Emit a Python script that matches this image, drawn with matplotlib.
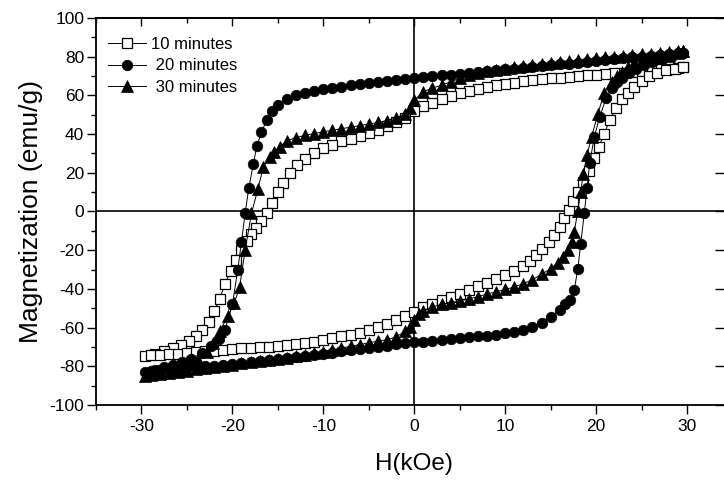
import matplotlib
matplotlib.use("Agg")
import matplotlib.pyplot as plt
import numpy as np

plt.rcParams['font.family'] = ['Liberation Sans', 'DejaVu Sans']
plt.rcParams['axes.unicode_minus'] = False

# 10 minutes (open squares)
h10_upper = [29.6, 29, 28, 27, 26, 25, 24, 23, 22, 21, 20, 19, 18, 17, 16, 15, 14, 13, 12, 11,
             10, 9, 8, 7, 6, 5, 4, 3, 2, 1, 0, -1, -2, -3, -4, -5, -6, -7, -8, -9, -10, -11,
             -12, -12.9, -13.7, -14.4, -15, -15.6, -16.2, -16.8, -17.4, -17.9, -18.4, -19.0,
             -19.6, -20.2, -20.8, -21.4, -22.0, -22.6, -23.3, -24.0, -24.8, -25.6, -26.5,
             -27.5, -28.5, -29.6]
m10_upper = [74.5, 74.2, 73.8, 73.4, 73.0, 72.6, 72.2, 71.8, 71.4, 71.0, 70.6, 70.3, 70.0, 69.6,
             69.2, 68.8, 68.3, 67.8, 67.2, 66.6, 66.0, 65.2, 64.4, 63.5, 62.5, 61.3, 59.8, 58.2,
             56.3, 54.3, 52.0, 48.5, 46.2, 44.2, 42.2, 40.6, 39.1, 37.7, 36.2, 34.6, 32.7, 30.3,
             27.3, 24.0, 19.7, 14.6, 10.0, 4.5, -1.0, -5.0, -8.5, -11.5, -15.0, -20.0, -25.0,
             -31.0, -37.5, -45.0, -51.5, -57.0, -61.5, -64.5, -67.0, -69.0, -70.7, -72.2, -73.5,
             -74.6]
h10_lower = [-29.6, -29, -28, -27, -26, -25, -24, -23, -22, -21, -20, -19, -18, -17, -16, -15,
             -14, -13, -12, -11, -10, -9, -8, -7, -6, -5, -4, -3, -2, -1, 0, 1, 2, 3, 4, 5, 6,
             7, 8, 9, 10, 11, 12, 12.7, 13.4, 14.1, 14.8, 15.4, 16.0, 16.5, 17.0, 17.5, 18.0,
             18.6, 19.2, 19.8, 20.3, 20.9, 21.5, 22.2, 22.9, 23.5, 24.2, 25.0, 25.8, 26.7,
             27.7, 28.7, 29.6]
m10_lower = [-74.6, -74.4, -74.0, -73.7, -73.4, -73.1, -72.7, -72.3, -71.9, -71.5, -71.1, -70.8,
             -70.5, -70.2, -69.9, -69.6, -69.2, -68.6, -67.9, -67.2, -66.4, -65.5, -64.6, -63.7,
             -62.7, -61.4, -59.9, -58.1, -56.2, -54.1, -51.8, -49.6, -47.6, -45.9, -44.3, -42.6,
             -40.6, -38.6, -36.8, -35.0, -33.0, -30.8, -28.0, -25.5, -22.5, -19.2, -15.8, -12.2,
             -8.0, -3.5, 1.0, 5.5, 10.0, 15.5, 21.0, 27.5, 33.5, 40.0, 47.5, 53.5, 58.0, 61.3,
             64.5, 67.7, 70.0, 71.8, 73.0, 73.8, 74.5]

# 20 minutes (filled circles)
h20_upper = [29.6, 29, 28, 27, 26, 25, 24, 23, 22, 21, 20, 19, 18, 17, 16, 15, 14, 13, 12, 11,
             10, 9, 8, 7, 6, 5, 4, 3, 2, 1, 0, -1, -2, -3, -4, -5, -6, -7, -8, -9, -10, -11,
             -12, -13, -14, -15, -15.6, -16.2, -16.8, -17.3, -17.7, -18.2, -18.6, -19.0, -19.4,
             -20.0, -20.8, -21.5, -22.3, -23.3, -24.5, -25.5, -26.5, -27.5, -28.5, -29.6]
m20_upper = [82.0, 81.7, 81.3, 80.9, 80.5, 80.1, 79.6, 79.1, 78.6, 78.1, 77.6, 77.2, 76.8, 76.4,
             76.0, 75.6, 75.2, 74.8, 74.3, 73.9, 73.5, 73.0, 72.6, 72.1, 71.7, 71.2, 70.7, 70.3,
             69.8, 69.4, 68.9, 68.4, 67.9, 67.4, 66.9, 66.4, 65.8, 65.2, 64.6, 63.9, 63.2, 62.4,
             61.4, 60.2, 58.2, 55.0, 52.0, 47.5, 41.0, 34.0, 24.5, 12.0, -1.0, -15.6, -30.0,
             -48.0, -61.0, -66.0, -69.5, -73.0, -76.0, -77.8, -79.3, -80.6, -81.7, -82.8]
h20_lower = [-29.6, -29, -28, -27, -26, -25, -24, -23, -22, -21, -20, -19, -18, -17, -16, -15,
             -14, -13, -12, -11, -10, -9, -8, -7, -6, -5, -4, -3, -2, -1, 0, 1, 2, 3, 4, 5, 6,
             7, 8, 9, 10, 11, 12, 13, 14, 15, 16, 16.6, 17.1, 17.6, 18.0, 18.3, 18.7, 19.0, 19.3,
             19.8, 20.4, 21.1, 21.7, 22.3, 22.9, 23.6, 24.4, 25.3, 26.2, 27.2, 28.3, 29.6]
m20_lower = [-82.8, -82.5, -82.1, -81.7, -81.3, -80.9, -80.5, -80.1, -79.6, -79.2, -78.7, -78.3,
             -77.8, -77.3, -76.8, -76.3, -75.8, -75.3, -74.7, -74.1, -73.5, -72.9, -72.3, -71.7,
             -71.1, -70.5, -69.9, -69.3, -68.7, -68.2, -67.6, -67.2, -66.8, -66.4, -66.0, -65.6,
             -65.1, -64.6, -64.1, -63.6, -63.0, -62.3, -61.5, -59.8, -57.4, -54.5, -51.0, -48.0,
             -45.5, -40.5, -29.5, -17.0, -1.0, 12.0, 25.0, 38.5, 49.0, 58.5, 64.0, 67.0, 69.2,
             71.5, 73.5, 75.5, 77.2, 78.8, 80.3, 82.0]

# 30 minutes (filled triangles)
h30_upper = [29.6, 29, 28, 27, 26, 25, 24, 23, 22, 21, 20, 19, 18, 17, 16, 15, 14, 13, 12, 11,
             10, 9, 8, 7, 6, 5, 4, 3, 2, 1, 0, -0.5, -1, -2, -3, -4, -5, -6, -7, -8, -9, -10,
             -11, -12, -13, -14, -14.8, -15.4, -15.9, -16.6, -17.2, -17.9, -18.6, -19.2, -19.8,
             -20.5, -21.4, -22.1, -22.8, -23.8, -24.8, -25.8, -26.8, -27.8, -28.8, -29.6]
m30_upper = [83.0, 82.8, 82.4, 82.0, 81.6, 81.2, 80.8, 80.4, 80.0, 79.6, 79.2, 78.7, 78.2, 77.7,
             77.2, 76.7, 76.2, 75.7, 75.1, 74.5, 73.9, 73.2, 72.4, 71.5, 70.4, 68.8, 67.0, 65.3,
             63.8, 62.0, 57.5, 53.3, 50.5, 48.3, 47.0, 46.0, 45.2, 44.4, 43.6, 42.8, 42.0, 41.2,
             40.3, 39.4, 38.2, 36.5, 33.5, 30.5, 28.0, 23.0, 11.5, -1.0, -20.0, -39.0, -47.5,
             -54.0, -62.0, -68.0, -72.5, -76.5, -79.0, -80.8, -82.2, -83.3, -84.2, -84.8]
h30_lower = [-29.6, -29, -28, -27, -26, -25, -24, -23, -22, -21, -20, -19, -18, -17, -16, -15,
             -14, -13, -12, -11, -10, -9, -8, -7, -6, -5, -4, -3, -2, -1, -0.5, 0, 0.5, 1, 2, 3,
             4, 5, 6, 7, 8, 9, 10, 11, 12, 13, 14, 15, 15.8, 16.4, 16.9, 17.3, 17.6, 18.0, 18.3,
             18.6, 19.0, 19.5, 20.2, 20.9, 21.7, 22.3, 22.9, 23.5, 24.2, 25, 26, 27, 28, 29, 29.6]
m30_lower = [-84.8, -84.5, -84.0, -83.4, -82.8, -82.2, -81.6, -81.0, -80.3, -79.7, -79.1, -78.5,
             -77.9, -77.3, -76.7, -76.1, -75.5, -74.8, -74.0, -73.2, -72.4, -71.5, -70.6, -69.7,
             -68.8, -67.9, -67.0, -66.3, -64.8, -62.0, -59.5, -56.0, -53.0, -51.3, -49.3, -48.0,
             -47.1, -46.2, -45.2, -44.0, -42.7, -41.5, -40.3, -39.0, -37.3, -35.2, -32.5, -29.5,
             -26.5, -23.5, -20.0, -16.0, -10.5, 0.5, 10.0, 19.5, 29.0, 38.5, 50.5, 61.5, 67.0,
             70.0, 72.3, 74.5, 76.5, 77.8, 78.8, 79.6, 80.6, 81.8, 83.0]

labels = ['10 minutes', ' 20 minutes', ' 30 minutes']
x_ticks = [-30, -20, -10, 0, 10, 20, 30]
y_ticks = [-100, -80, -60, -40, -20, 0, 20, 40, 60, 80, 100]

fig = plt.figure(figsize=(7.24, 4.91), dpi=100)
ax = fig.add_axes([0.1326, 0.1752, 0.8791, 0.7881])

ax.axhline(0, color='k', lw=1.2, zorder=1)
ax.axvline(0, color='k', lw=1.2, zorder=1)

series = [
    (h10_upper, m10_upper, h10_lower, m10_lower, dict(marker='s', ms=6.6, mfc='white', mec='black', mew=0.9)),
    (h20_upper, m20_upper, h20_lower, m20_lower, dict(marker='o', ms=7.6, mfc='black', mec='black', mew=0.5)),
    (h30_upper, m30_upper, h30_lower, m30_lower, dict(marker='^', ms=8.2, mfc='black', mec='black', mew=0.5)),
]
for (hu, mu, hl, ml, style), lab in zip(series, labels):
    h = hu + hl[1:]
    m = mu + ml[1:]
    ax.plot(h, m, color='black', lw=0.7, label=lab, zorder=2, **style)

ax.set_xlim(-35, 35)
ax.set_ylim(-100, 100)
ax.set_xticks(x_ticks)
ax.set_xticks(np.arange(-35, 36, 5), minor=True)
ax.set_yticks(y_ticks)
ax.set_yticks(np.arange(-100, 101, 10), minor=True)
ax.tick_params(which='major', direction='out', length=6.5, width=1.0, labelsize=12.5)
ax.tick_params(axis='y', which='major', pad=2)
ax.tick_params(which='minor', direction='out', length=3.6, width=1.0)
for sp in ax.spines.values():
    sp.set_linewidth(1.3)

secx = ax.secondary_xaxis('top')
secx.set_xticks(x_ticks)
secx.set_xticks(np.arange(-35, 36, 5), minor=True)
secx.tick_params(which='major', direction='in', length=6, width=1.0, labeltop=False)
secx.tick_params(which='minor', direction='in', length=3.5, width=1.0)
secx.spines['top'].set_linewidth(1.3)
secy = ax.secondary_yaxis('right')
secy.set_yticks(y_ticks)
secy.set_yticks(np.arange(-100, 101, 10), minor=True)
secy.tick_params(which='major', direction='in', length=12, width=1.0, labelright=False)
secy.tick_params(which='minor', direction='in', length=6, width=1.0)

ax.set_xlabel('H(kOe)', fontsize=17.5, labelpad=14)
ax.set_ylabel('Magnetization (emu/g)', fontsize=19, labelpad=5)

ax.legend(loc='upper left', frameon=False, fontsize=12, handlelength=2.3,
          handletextpad=0.3, labelspacing=0.38, borderaxespad=0.0,
          bbox_to_anchor=(0.008, 0.968))

fig.savefig('out.png', dpi=100)
